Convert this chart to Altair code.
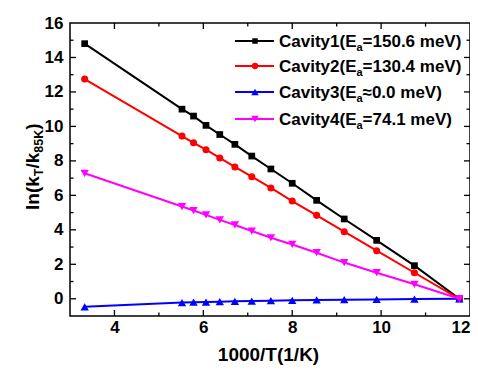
import altair as alt
import pandas as pd

# ---------------- data ----------------
inv_T = [3.33, 5.52, 5.78, 6.06, 6.37, 6.71, 7.09, 7.52, 8.00, 8.55, 9.17, 9.90, 10.75, 11.76]
cavity1 = [14.80, 11.00, 10.60, 10.06, 9.53, 8.96, 8.28, 7.53, 6.70, 5.71, 4.63, 3.39, 1.92, 0.0]
cavity2 = [12.75, 9.44, 9.05, 8.65, 8.17, 7.65, 7.08, 6.43, 5.67, 4.84, 3.89, 2.79, 1.51, 0.0]
cavity3 = [-0.47, -0.22, -0.20, -0.19, -0.17, -0.15, -0.13, -0.11, -0.09, -0.07, -0.05, -0.04, -0.02, 0.0]
cavity4 = [7.28, 5.35, 5.12, 4.87, 4.58, 4.28, 3.93, 3.54, 3.15, 2.67, 2.10, 1.51, 0.84, 0.0]

series_names = ["Cavity1", "Cavity2", "Cavity3", "Cavity4"]
ea_texts = ["=150.6 meV)", "=130.4 meV)", "\u22480.0 meV)", "=74.1 meV)"]

x_labels = [4, 6, 8, 10, 12]
x_ticks_major = [4, 6, 8, 10]
x_ticks_minor = [5, 7, 9, 11]
y_labels = [0, 2, 4, 6, 8, 10, 12, 14, 16]
y_ticks_major = [0, 2, 4, 6, 8, 10, 12, 14]
y_ticks_minor = [1, 3, 5, 7, 9, 11, 13, 15]

x_title = "1000/T(1/K)"

# ---------------- styles ----------------
colors = ["#000000", "#FF0000", "#0000FF", "#FF00FF"]
shapes = ["square", "circle", "triangle-up", "triangle-down"]
msizes = [45, 50, 70, 70]
lsizes = [30, 40, 55, 55]
FONT = "Liberation Sans"
W, H = 400, 293

# Arial/Liberation Sans Bold advance widths (per 1000 em)
AW = {'C': 722, 'a': 556, 'v': 556, 'i': 278, 't': 333, 'y': 556, '(': 333, ')': 333,
      'E': 667, '=': 584, '.': 278, ' ': 278, 'm': 889, 'e': 556, 'V': 667, '\u2248': 584,
      'l': 278, 'n': 611, 'k': 556, '/': 278, 'T': 611, 'K': 722}


def tw(s, size):
    return sum(AW.get(ch, 556) for ch in s) * size / 1000.0


xs = alt.Scale(domain=[3, 12], nice=False, zero=False)
ys = alt.Scale(domain=[-1, 16], nice=False, zero=False)

x_axis = alt.Axis(values=x_labels, ticks=False, tickSize=0, domain=False, grid=False,
                  labelFont=FONT, labelFontSize=17, labelFontWeight="bold", labelColor="black",
                  labelPadding=3, labelFlush=True, labelOverlap=False, labelBaseline="top",
                  title=None, format="d")
y_axis = alt.Axis(values=y_labels, ticks=False, tickSize=0, domain=False, grid=False,
                  labelFont=FONT, labelFontSize=17, labelFontWeight="bold", labelColor="black",
                  labelPadding=7, labelFlush=False, labelOverlap=False, title=None, format="d")

one = pd.DataFrame({"k": [0]})
layers = []

# ---------------- data series ----------------
all_vals = [cavity1, cavity2, cavity3, cavity4]
for name, vals, c, shp, ms in zip(series_names, all_vals, colors, shapes, msizes):
    df = pd.DataFrame({"x": inv_T, "y": vals})
    base = alt.Chart(df).encode(
        x=alt.X("x:Q", scale=xs, axis=x_axis),
        y=alt.Y("y:Q", scale=ys, axis=y_axis),
    )
    layers.append(base.mark_line(color=c, strokeWidth=2))
    layers.append(base.mark_point(shape=shp, filled=True, size=ms, color=c, opacity=1))

# ---------------- inward ticks on all four sides ----------------
def vticks(vals, ypos, length, off):
    return alt.Chart(pd.DataFrame({"v": vals})).mark_tick(
        orient="vertical", size=length, thickness=1.3, color="black", yOffset=off, opacity=1
    ).encode(x=alt.X("v:Q", scale=xs, axis=x_axis), y=alt.YDatum(ypos, scale=ys, axis=y_axis))


def hticks(vals, xpos, length, off):
    return alt.Chart(pd.DataFrame({"v": vals})).mark_tick(
        orient="horizontal", size=length, thickness=1.3, color="black", xOffset=off, opacity=1
    ).encode(y=alt.Y("v:Q", scale=ys, axis=y_axis), x=alt.XDatum(xpos, scale=xs, axis=x_axis))


layers += [
    vticks(x_ticks_major, -1, 6, -3), vticks(x_ticks_minor, -1, 3.5, -1.75),
    vticks(x_ticks_major, 16, 6, 3), vticks(x_ticks_minor, 16, 3.5, 1.75),
    hticks(y_ticks_major, 3, 6, 3), hticks(y_ticks_minor, 3, 3.5, 1.75),
    hticks(y_ticks_major, 12, 6, -3), hticks(y_ticks_minor, 12, 3.5, -1.75),
]

# ---------------- legend (manual, with subscripts) ----------------
row_y = [18, 43, 69, 96]
lx0, lx1, lmx, ltx = 165, 204, 185, 209
for name, ea, c, shp, ls, ry in zip(series_names, ea_texts, colors, shapes, lsizes, row_y):
    layers.append(alt.Chart(one).mark_rule(color=c, strokeWidth=2).encode(
        x=alt.value(lx0), x2=alt.value(lx1), y=alt.value(ry)))
    layers.append(alt.Chart(one).mark_point(shape=shp, filled=True, size=ls, color=c, opacity=1).encode(
        x=alt.value(lmx), y=alt.value(ry)))
    t1 = name + "(E"
    w1 = tw(t1, 17)
    ws = tw("a", 11)
    layers.append(alt.Chart(one).mark_text(text=t1, align="left", baseline="alphabetic", font=FONT,
                                            fontSize=17, fontWeight="bold", color="black").encode(
        x=alt.value(ltx), y=alt.value(ry + 6)))
    layers.append(alt.Chart(one).mark_text(text="a", align="left", baseline="alphabetic", font=FONT,
                                            fontSize=11, fontWeight="bold", color="black").encode(
        x=alt.value(ltx + w1), y=alt.value(ry + 9.5)))
    layers.append(alt.Chart(one).mark_text(text=ea, align="left", baseline="alphabetic", font=FONT,
                                            fontSize=17, fontWeight="bold", color="black").encode(
        x=alt.value(ltx + w1 + ws), y=alt.value(ry + 6)))

# ---------------- axis titles ----------------
layers.append(alt.Chart(one).mark_text(text=x_title, align="center", baseline="alphabetic", font=FONT,
                                        fontSize=19, fontWeight="bold", color="black").encode(
    x=alt.value(W / 2 - 1.5), y=alt.value(338)))

# y title: ln(k_T/k_85K), rotated, built from pieces
ytitle_parts = [("ln(k", 19, 0), ("T", 12.5, 3.5), ("/k", 19, 0), ("85K", 12.5, 3.5), (")", 19, 0)]
base_x, cur_y = -31, 187
for txt, fs, dx in ytitle_parts:
    layers.append(alt.Chart(one).mark_text(text=txt, align="left", baseline="alphabetic", angle=270,
                                            font=FONT, fontSize=fs, fontWeight="bold", color="black").encode(
        x=alt.value(base_x + dx), y=alt.value(cur_y)))
    cur_y -= tw(txt, fs)

chart = alt.layer(*layers).properties(
    width=W, height=H,
    background="white",
    autosize=alt.AutoSizeParams(type="none"),
    padding={"left": 62, "top": 15, "right": 0, "bottom": 49},
).configure_view(stroke="black", strokeWidth=1.5)

chart.save("out.html", embed_options={"renderer": "svg", "actions": False})
